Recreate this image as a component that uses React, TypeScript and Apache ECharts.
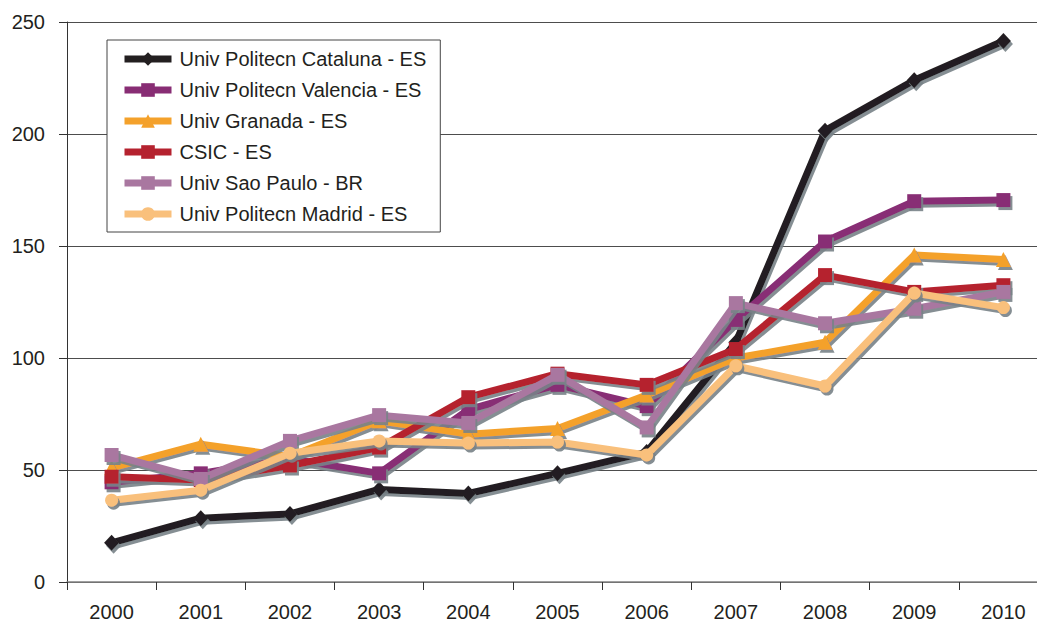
import React, { useEffect, useRef } from "react";
import * as echarts from "echarts";

const years = ["2000", "2001", "2002", "2003", "2004", "2005", "2006", "2007", "2008", "2009", "2010"];
const seriesNames = [
  "Univ Politecn Cataluna - ES",
  "Univ Politecn Valencia - ES",
  "Univ Granada - ES",
  "CSIC - ES",
  "Univ Sao Paulo - BR",
  "Univ Politecn Madrid - ES",
];
const cataluna = [17.5, 28.5, 30.4, 41.3, 39.5, 48.5, 58, 107, 201.5, 224, 241.5];
const valencia = [44.5, 48.5, 55, 48.5, 77, 88, 78.5, 117, 152, 170, 170.5];
const granada = [51, 61.5, 56, 72, 66, 68.5, 83.5, 100, 107, 146, 144];
const csic = [47, 45.5, 52, 60, 82.5, 93, 88, 104, 137, 129.5, 132.5];
const saoPaulo = [56.7, 46, 63, 74.5, 71, 92.5, 69, 124.5, 115.5, 122, 129.5];
const madrid = [36.5, 41, 57.5, 63, 62, 62.5, 56.7, 96.5, 87.5, 129, 122.5];
const seriesData = [cataluna, valencia, granada, csic, saoPaulo, madrid];
const colors = ["#231f20", "#882d74", "#f4a12b", "#b5222f", "#a977a0", "#f9c07c"];
const symbols = ["diamond", "rect", "triangle", "rect", "rect", "circle"];
const symbolSizes: any[] = [[15, 16], 14, 15, 14, 14, 13];

export default function App() {
  const ref = useRef<HTMLDivElement>(null);
  useEffect(() => {
    if (!ref.current) return;
    const chart = echarts.init(ref.current, undefined, { renderer: "svg" });
    const font = "Liberation Sans, Arial, sans-serif";
    chart.setOption({
      animation: false,
      backgroundColor: "#ffffff",
      textStyle: { fontFamily: font },
      grid: { left: 67, right: 0, top: 22, bottom: 41, containLabel: false },
      legend: {
        left: 107,
        top: 40,
        orient: "vertical",
        backgroundColor: "#ffffff",
        borderColor: "#444444",
        borderWidth: 1,
        borderRadius: 0,
        padding: [9, 14, 8, 14],
        itemWidth: 47,
        itemHeight: 17,
        itemGap: 11,
        lineStyle: { width: 7 },
        textStyle: {
          fontSize: 20,
          lineHeight: 20,
          color: "#231f20",
          fontFamily: font,
          padding: [0, 0, 0, 3],
        },
        data: seriesNames,
      },
      xAxis: {
        type: "category",
        data: years,
        boundaryGap: true,
        axisLine: { lineStyle: { color: "#808080", width: 1.5 } },
        axisTick: { show: true, length: 8, lineStyle: { color: "#333333" } },
        axisLabel: { fontSize: 20, color: "#231f20", margin: 20, fontFamily: font },
        splitLine: { show: false },
      },
      yAxis: {
        type: "value",
        min: 0,
        max: 250,
        interval: 50,
        axisLine: { show: true, lineStyle: { color: "#333333", width: 1 } },
        axisTick: { show: true, length: 8, lineStyle: { color: "#333333" } },
        axisLabel: { fontSize: 20, color: "#231f20", margin: 22, fontFamily: font },
        splitLine: { show: true, lineStyle: { color: "#4d4d4d", width: 1 } },
      },
      series: seriesNames.map((name, i) => ({
        name,
        type: "line",
        data: seriesData[i],
        symbol: symbols[i],
        symbolSize: symbolSizes[i],
        showSymbol: true,
        color: colors[i],
        lineStyle: {
          width: 7,
          color: colors[i],
          shadowColor: "rgba(120,130,135,0.9)",
          shadowBlur: 0,
          shadowOffsetX: 2,
          shadowOffsetY: 3,
        },
        itemStyle: {
          color: colors[i],
          borderWidth: 0,
          shadowColor: "rgba(120,130,135,0.9)",
          shadowBlur: 0,
          shadowOffsetX: 2,
          shadowOffsetY: 3,
        },
        emphasis: { disabled: true },
        z: 2 + i,
      })),
    });
    return () => chart.dispose();
  }, []);
  return (
    <div style={{ position: "fixed", left: 0, top: 0, width: 1037, height: 623, overflow: "hidden" }}>
      <div ref={ref} style={{ width: 1048, height: 623 }} />
    </div>
  );
}
